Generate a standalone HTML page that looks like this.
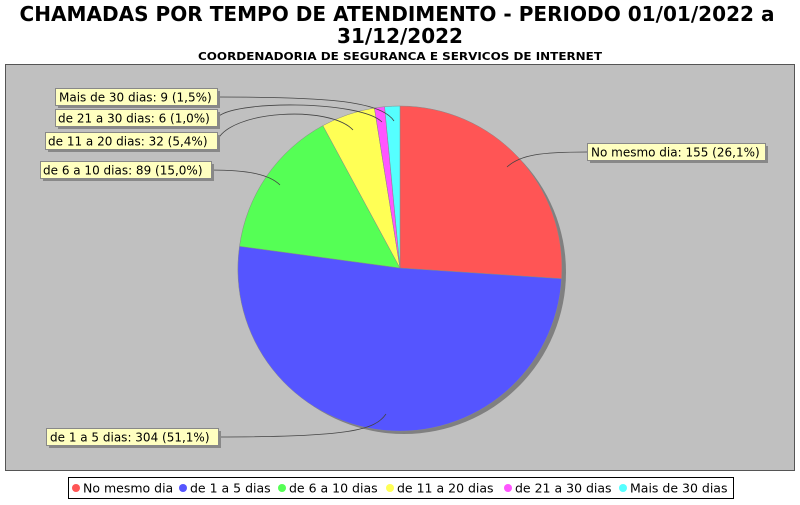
<!DOCTYPE html>
<html><head><meta charset="utf-8"><style>
body{margin:0;background:#fff;width:800px;height:500px;overflow:hidden}
svg text{font-family:"DejaVu Sans","Liberation Sans",sans-serif}
</style></head><body>
<svg width="800" height="500" xmlns="http://www.w3.org/2000/svg">
<rect width="800" height="500" fill="#fff"/>
<text x="397" y="21" text-anchor="middle" font-size="20" font-weight="bold" textLength="755" lengthAdjust="spacingAndGlyphs">CHAMADAS POR TEMPO DE ATENDIMENTO - PERIODO 01/01/2022 a</text>
<text x="400" y="43" text-anchor="middle" font-size="20" font-weight="bold">31/12/2022</text>
<text x="400" y="60" text-anchor="middle" font-size="11" font-weight="bold" textLength="404" lengthAdjust="spacingAndGlyphs">COORDENADORIA DE SEGURANCA E SERVICOS DE INTERNET</text>
<rect x="5.5" y="64.5" width="789" height="406" fill="#c0c0c0" stroke="#555" stroke-width="1"/>
<ellipse cx="404" cy="272" rx="162" ry="162" fill="#808080"/>
<g stroke="#888" stroke-width="0.5">
<path d="M400,268 L400,106 A162,162 0 0 1 561.6,278.7 Z" fill="#ff5555"/>
<path d="M400,268 L561.6,278.7 A162,162 0 1 1 239.5,246.3 Z" fill="#5555ff"/>
<path d="M400,268 L239.5,246.3 A162,162 0 0 1 322.9,125.6 Z" fill="#55ff55"/>
<path d="M400,268 L322.9,125.6 A162,162 0 0 1 374.4,108 Z" fill="#ffff55"/>
<path d="M400,268 L374.4,108 A162,162 0 0 1 384.6,106.7 Z" fill="#ff55ff"/>
<path d="M400,268 L384.6,106.7 A162,162 0 0 1 400,106 Z" fill="#55ffff"/>
</g>
<g fill="none" stroke="#444" stroke-width="0.8">
<path d="M217,97 C320,97 380,100 394,121"/>
<path d="M217,118 C230,100 360,100 382,122"/>
<path d="M217,141 C230,110 330,105 353,130"/>
<path d="M211,170 C250,170 270,175 280,185"/>
<path d="M587,152 C540,152 520,155 507,167"/>
<path d="M218,437 C350,437 375,430 386,414"/>
</g>
<g font-size="12">
<rect x="58" y="91" width="162" height="17" fill="#888"/><rect x="55.5" y="88.5" width="162" height="17" fill="#ffffc0" stroke="#888"/><text x="59" y="101.5">Mais de 30 dias: 9 (1,5%)</text>
<rect x="58" y="112" width="162" height="17" fill="#888"/><rect x="55.5" y="109.5" width="162" height="17" fill="#ffffc0" stroke="#888"/><text x="58" y="122.5">de 21 a 30 dias: 6 (1,0%)</text>
<rect x="48" y="135" width="172" height="17" fill="#888"/><rect x="45.5" y="132.5" width="172" height="17" fill="#ffffc0" stroke="#888"/><text x="48" y="145.5">de 11 a 20 dias: 32 (5,4%)</text>
<rect x="43" y="164" width="171" height="17" fill="#888"/><rect x="40.5" y="161.5" width="171" height="17" fill="#ffffc0" stroke="#888"/><text x="43" y="174.5">de 6 a 10 dias: 89 (15,0%)</text>
<rect x="590" y="146" width="178" height="17" fill="#888"/><rect x="587.5" y="143.5" width="178" height="17" fill="#ffffc0" stroke="#888"/><text x="591" y="156.5">No mesmo dia: 155 (26,1%)</text>
<rect x="49" y="431" width="172" height="17" fill="#888"/><rect x="46.5" y="428.5" width="172" height="17" fill="#ffffc0" stroke="#888"/><text x="50" y="441.5">de 1 a 5 dias: 304 (51,1%)</text>
</g>
<rect x="68.5" y="477.5" width="665" height="21" fill="#fff" stroke="#000"/>
<g font-size="12.5">
<circle cx="76" cy="488" r="4" fill="#ff5555"/><text x="83" y="492.5">No mesmo dia</text>
<circle cx="183" cy="488" r="4" fill="#5555ff"/><text x="190" y="492.5">de 1 a 5 dias</text>
<circle cx="282" cy="488" r="4" fill="#55ff55"/><text x="289" y="492.5">de 6 a 10 dias</text>
<circle cx="390" cy="488" r="4" fill="#ffff55"/><text x="397" y="492.5">de 11 a 20 dias</text>
<circle cx="508" cy="488" r="4" fill="#ff55ff"/><text x="515" y="492.5">de 21 a 30 dias</text>
<circle cx="623" cy="488" r="4" fill="#55ffff"/><text x="630" y="492.5">Mais de 30 dias</text>
</g>
</svg>
</body></html>
